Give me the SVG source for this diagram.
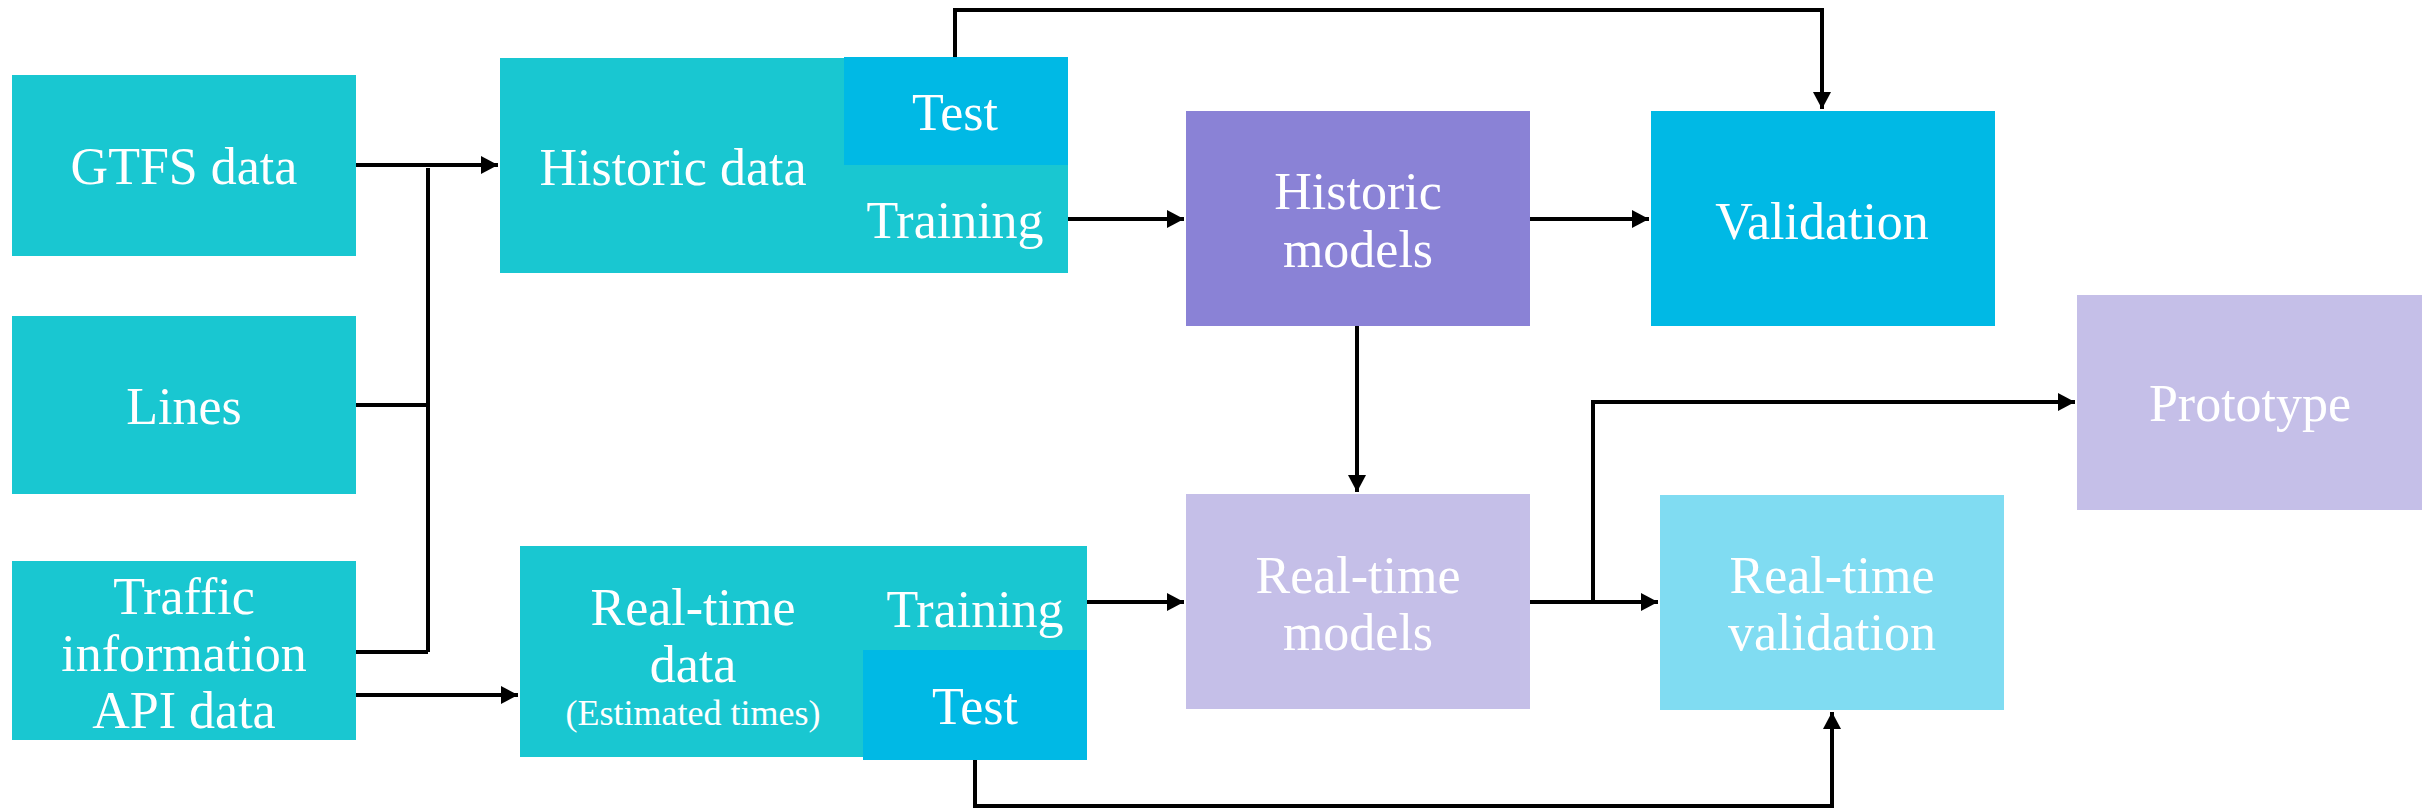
<svg xmlns="http://www.w3.org/2000/svg" width="2422" height="808" viewBox="0 0 2422 808">
<style>
.t{font-family:"Liberation Serif","Times New Roman",serif;font-size:52px;fill:#ffffff;text-anchor:middle}
.s{font-size:36px}
.c{fill:none;stroke:#000;stroke-width:4}
.teal{fill:#19C7D1}
.blue{fill:#00B9E5}
.purple{fill:#8A82D6}
.lav{fill:#C5BFE8}
.lcyan{fill:#80DCF2}
</style>
<defs>
<marker id="ah" markerUnits="userSpaceOnUse" markerWidth="20" markerHeight="20" refX="17" refY="9" orient="auto">
<path d="M0,0 L17,9 L0,18 Z" fill="#000"/>
</marker>
</defs>
<g id="connectors">
<path class="c" d="M356,165 H498" marker-end="url(#ah)"/>
<path class="c" d="M356,405 H428 M356,652 H428 M428,168 V652"/>
<path class="c" d="M356,695 H518" marker-end="url(#ah)"/>
<path class="c" d="M1068,219 H1184" marker-end="url(#ah)"/>
<path class="c" d="M1530,219 H1649" marker-end="url(#ah)"/>
<path class="c" d="M955,57 V10 H1822 V109" marker-end="url(#ah)"/>
<path class="c" d="M1357,326 V492" marker-end="url(#ah)"/>
<path class="c" d="M1087,602 H1184" marker-end="url(#ah)"/>
<path class="c" d="M1530,602 H1658" marker-end="url(#ah)"/>
<path class="c" d="M1593,602 V402 H2075" marker-end="url(#ah)"/>
<path class="c" d="M975,760 V806 H1832 V712" marker-end="url(#ah)"/>
</g>
<g id="gtfs">
<rect class="teal" x="12" y="75" width="344" height="181"/>
<text class="t" x="184" y="184">GTFS data</text>
</g>
<g id="lines">
<rect class="teal" x="12" y="316" width="344" height="178"/>
<text class="t" x="184" y="424">Lines</text>
</g>
<g id="traffic">
<rect class="teal" x="12" y="561" width="344" height="179"/>
<text class="t" x="184" y="614">Traffic</text>
<text class="t" x="184" y="671">information</text>
<text class="t" x="184" y="728">API data</text>
</g>
<g id="historic-data">
<rect class="teal" x="500" y="58" width="568" height="215"/>
<text class="t" x="673" y="185">Historic data</text>
</g>
<g id="historic-test">
<rect class="blue" x="844" y="57" width="224" height="108"/>
<text class="t" x="955" y="130">Test</text>
</g>
<g id="historic-training">
<text class="t" x="955" y="238">Training</text>
</g>
<g id="realtime-data">
<rect class="teal" x="520" y="546" width="567" height="211"/>
<text class="t" x="693" y="625">Real-time</text>
<text class="t" x="693" y="682">data</text>
<text class="t s" x="693" y="725">(Estimated times)</text>
</g>
<g id="realtime-training">
<text class="t" x="975" y="627">Training</text>
</g>
<g id="realtime-test">
<rect class="blue" x="863" y="650" width="224" height="110"/>
<text class="t" x="975" y="724">Test</text>
</g>
<g id="historic-models">
<rect class="purple" x="1186" y="111" width="344" height="215"/>
<text class="t" x="1358" y="209">Historic</text>
<text class="t" x="1358" y="267">models</text>
</g>
<g id="validation">
<rect class="blue" x="1651" y="111" width="344" height="215"/>
<text class="t" x="1822" y="239">Validation</text>
</g>
<g id="prototype">
<rect class="lav" x="2077" y="295" width="345" height="215"/>
<text class="t" x="2250" y="421">Prototype</text>
</g>
<g id="realtime-models">
<rect class="lav" x="1186" y="494" width="344" height="215"/>
<text class="t" x="1358" y="593">Real-time</text>
<text class="t" x="1358" y="650">models</text>
</g>
<g id="realtime-validation">
<rect class="lcyan" x="1660" y="495" width="344" height="215"/>
<text class="t" x="1832" y="593">Real-time</text>
<text class="t" x="1832" y="650">validation</text>
</g>
</svg>
